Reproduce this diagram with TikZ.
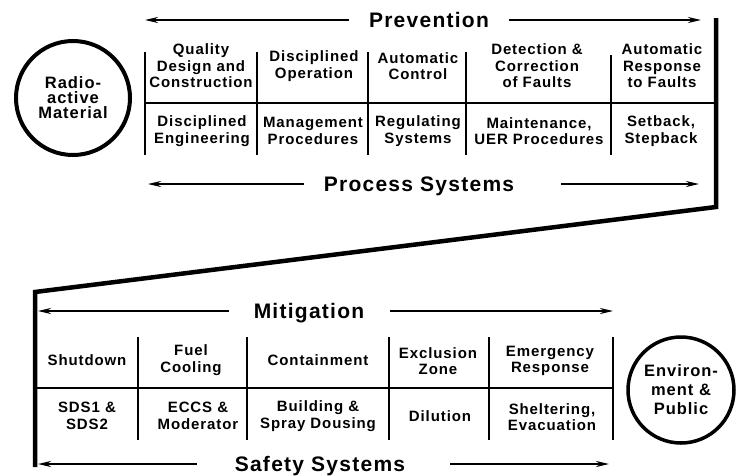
\documentclass[tikz,border=0pt]{standalone}
\usepackage{fontspec}
\setmainfont{Liberation Sans}
\newfontfamily\diagfont[LetterSpace=6]{Liberation Sans}
\usetikzlibrary{arrows.meta}

\begin{document}
\begin{tikzpicture}[x=1pt,y=-1pt,
    cell/.style={align=center,inner sep=0pt,font=\diagfont\bfseries\fontsize{15}{16.5}\selectfont},
    head/.style={inner sep=0pt,text height=15pt,text depth=0pt,font=\diagfont\bfseries\fontsize{21}{24}\selectfont},
    pool/.style={circle,draw,line width=4pt,align=center,inner sep=0pt,font=\diagfont\bfseries\fontsize{16.5}{15}\selectfont},
    arr/.style={line width=2pt,-{Stealth[length=13pt,width=6pt]}},
    rule/.style={line width=2.5pt},
    frame/.style={line width=4.5pt,line join=miter}]
    \useasboundingbox (0,0) rectangle (736,475);

    \node[pool,minimum size=114pt] (rad) at (73,98) {Radio-\\active\\Material};
    \node[pool,minimum size=106pt,line width=3.5pt,font=\diagfont\bfseries\fontsize{16.5}{19}\selectfont] (env) at (681,390) {Environ-\\ment \&\\Public};

    \coordinate (fA) at (716,18);
    \coordinate (fB) at (716,207);
    \coordinate (fC) at (35,292);
    \coordinate (fD) at (35,467);
    \draw[frame] (fA) -- (fB) -- (fC) -- (fD);

    \node[head] (prev) at (429,20) {Prevention};
    \node[head] (proc) at (419,184) {Process Systems};
    \node[head] (miti) at (309,311) {Mitigation};
    \node[head] (safe) at (320,464) {Safety Systems};
    \coordinate (prevL) at (145,20);
    \coordinate (prevR) at (701,20);
    \coordinate (procL) at (148,184);
    \coordinate (procR) at (699,184);
    \coordinate (mitiL) at (38,311);
    \coordinate (mitiR) at (613,311);
    \coordinate (safeL) at (38,464);
    \coordinate (safeR) at (609,464);
    \draw[arr,shorten <=20pt] (prev.west) -- (prevL);
    \draw[arr,shorten <=20pt] (prev.east) -- (prevR);
    \draw[arr,shorten <=20pt] (proc.west) -- (procL);
    \draw[arr,shorten <=47pt] (proc.east) -- (procR);
    \draw[arr,shorten <=25pt] (miti.west) -- (mitiL);
    \draw[arr,shorten <=26pt] (miti.east) -- (mitiR);
    \draw[arr,shorten <=38pt] (safe.west) -- (safeL);
    \draw[arr,shorten <=45pt] (safe.east) -- (safeR);

    \draw[rule] (145,52) -- (145,155);
    \draw[rule] (257,52) -- (257,155);
    \draw[rule] (368,52) -- (368,155);
    \draw[rule] (466,52) -- (466,155);
    \draw[rule] (611,55) -- (611,155);
    \draw[line width=2pt] (145,103) -- (716,103);

    \node[cell] (qual) at (201,66) {Quality\\Design and\\Construction};
    \node[cell] (oper) at (314,66) {Disciplined\\Operation};
    \node[cell] (ctrl) at (418,66) {Automatic\\Control};
    \node[cell] (dete) at (537,66) {Detection \&\\Correction\\of Faults};
    \node[cell] (resp) at (662,66) {Automatic\\Response\\to Faults};
    \node[cell] (engi) at (202,131) {Disciplined\\Engineering};
    \node[cell] (mana) at (313,131) {Management\\Procedures};
    \node[cell] (regu) at (418,131) {Regulating\\Systems};
    \node[cell] (main) at (539,131) {Maintenance,\\UER Procedures};
    \node[cell] (setb) at (661,131) {Setback,\\Stepback};

    \draw[rule] (138,337) -- (138,440);
    \draw[rule] (247,337) -- (247,440);
    \draw[rule] (389,337) -- (389,440);
    \draw[rule] (489,337) -- (489,440);
    \draw[rule] (613,337) -- (613,440);
    \draw[line width=2pt] (35,388) -- (613,388);

    \node[cell] (shut) at (87,360) {Shutdown};
    \node[cell] (fuel) at (191,360) {Fuel\\Cooling};
    \node[cell] (cont) at (318,360) {Containment};
    \node[cell] (excl) at (438,361) {Exclusion\\Zone};
    \node[cell] (emer) at (550,361) {Emergency\\Response};
    \node[cell] (sdss) at (87,416) {SDS1 \&\\SDS2};
    \node[cell] (eccs) at (198,416) {ECCS \&\\Moderator};
    \node[cell] (buil) at (318,416) {Building \&\\Spray Dousing};
    \node[cell] (dilu) at (440,416) {Dilution};
    \node[cell] (shel) at (552,417) {Sheltering,\\Evacuation};
\end{tikzpicture}
\end{document}
